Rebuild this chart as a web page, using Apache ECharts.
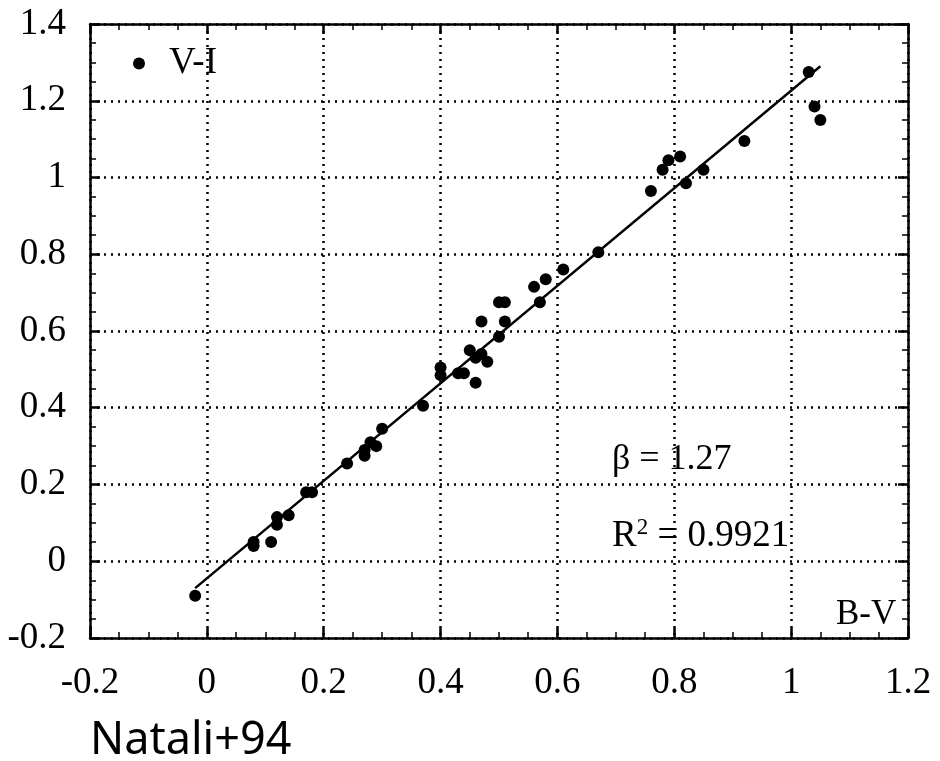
<!DOCTYPE html>
<html>
<head>
<meta charset="utf-8">
<script src="https://cdn.jsdelivr.net/npm/echarts@6/dist/echarts.min.js"></script>
<style>
  html, body { margin: 0; padding: 0; background: #fff; }
  #chart { width: 940px; height: 761px; }
</style>
</head>
<body>
<div id="chart"></div>
<script>
// B-V vs V-I colours
const bv = [-0.02, 0.08, 0.08, 0.11, 0.12, 0.12, 0.14, 0.17, 0.18, 0.24, 0.27, 0.27, 0.28, 0.29, 0.30,
  0.37, 0.40, 0.40, 0.43, 0.44, 0.45, 0.46, 0.46, 0.47, 0.47, 0.48, 0.50, 0.50, 0.51, 0.51,
  0.56, 0.57, 0.58, 0.61, 0.67, 0.76, 0.78, 0.79, 0.81, 0.82, 0.85, 0.92, 1.03, 1.04, 1.05]
const vi = [-0.09, 0.05, 0.04, 0.05, 0.115, 0.095, 0.12, 0.18, 0.18, 0.255, 0.275, 0.29, 0.31, 0.30, 0.345,
  0.405, 0.505, 0.485, 0.49, 0.49, 0.55, 0.465, 0.53, 0.54, 0.625, 0.52, 0.585, 0.675, 0.675, 0.625,
  0.715, 0.675, 0.735, 0.76, 0.805, 0.965, 1.02, 1.045, 1.055, 0.985, 1.02, 1.095, 1.275, 1.185, 1.15]
// fitted line end points
const fitX = [-0.02, 1.05]
const fitY = [-0.07, 1.29]
const slopeText = 'β = 1.27'
const r2Text = '0.9921'

const chart = echarts.init(document.getElementById('chart'))
const serif = '"Liberation Serif", "DejaVu Serif", serif'

const axisCommon = {
  type: 'value',
  interval: 0.2,
  minorTick: { show: true, splitNumber: 4, length: 6, lineStyle: { color: '#000', width: 1.5 } },
  axisLine: { show: true, onZero: false, lineStyle: { color: '#000', width: 2.5 } },
  axisTick: { show: true, inside: true, length: 10, lineStyle: { color: '#000', width: 2.5 } }
}

const options = {
  animation: false,
  backgroundColor: '#fff',
  grid: { left: 90, right: 32, top: 24, bottom: 123 },
  legend: {
    left: 128,
    top: 40,
    icon: 'circle',
    symbolKeepAspect: true,
    itemWidth: 50,
    itemHeight: 12,
    data: ['V-I'],
    textStyle: { fontFamily: serif, fontSize: 37, color: '#000' }
  },
  xAxis: [
    Object.assign({}, axisCommon, {
      position: 'bottom',
      min: -0.2,
      max: 1.2,
      axisLabel: {
        margin: 27,
        fontFamily: serif, fontSize: 37, color: '#000',
        formatter: v => String(Math.round(v * 10) / 10)
      },
      splitLine: { show: true, lineStyle: { color: '#000', width: 2.5, type: [2, 5] } }
    }),
    Object.assign({}, axisCommon, {
      position: 'top',
      min: -0.2,
      max: 1.2,
      axisLabel: { show: false },
      splitLine: { show: false }
    })
  ],
  yAxis: [
    Object.assign({}, axisCommon, {
      position: 'left',
      min: -0.2,
      max: 1.4,
      axisLabel: {
        margin: 24,
        fontFamily: serif, fontSize: 37, color: '#000',
        formatter: v => String(Math.round(v * 10) / 10)
      },
      splitLine: { show: true, lineStyle: { color: '#000', width: 2.5, type: [2, 5] } }
    }),
    Object.assign({}, axisCommon, {
      position: 'right',
      min: -0.2,
      max: 1.4,
      axisLabel: { show: false },
      splitLine: { show: false }
    })
  ],
  graphic: [
    {
      type: 'text', left: 612, top: 442,
      style: { text: slopeText, font: '36px ' + serif, fill: '#000' }
    },
    {
      type: 'text', left: 612, top: 516,
      style: {
        text: '{b|R}{s|2}{b| = ' + r2Text + '}',
        rich: {
          b: { fontFamily: serif, fontSize: 37, color: '#000', verticalAlign: 'bottom' },
          s: { fontFamily: serif, fontSize: 23, color: '#000', verticalAlign: 'top', padding: [0, 0, 16, 0] }
        }
      }
    },
    {
      type: 'text', left: 836, top: 597,
      style: { text: 'B-V', font: '35px ' + serif, fill: '#000' }
    },
    {
      type: 'text', left: 90, top: 719,
      style: { text: 'Natali+94', font: '45px "Noto Sans", "Open Sans", sans-serif', fill: '#000' }
    }
  ],
  series: [
    {
      name: 'V-I',
      type: 'scatter',
      symbol: 'circle',
      symbolSize: 12,
      itemStyle: { color: '#000', opacity: 1 },
      data: bv.map((x, i) => [x, vi[i]]),
      z: 3
    },
    {
      name: 'fit',
      type: 'line',
      showSymbol: false,
      lineStyle: { color: '#000', width: 2.5 },
      data: fitX.map((x, i) => [x, fitY[i]]),
      z: 2
    }
  ]
}
chart.setOption(options)
</script>
</body>
</html>
